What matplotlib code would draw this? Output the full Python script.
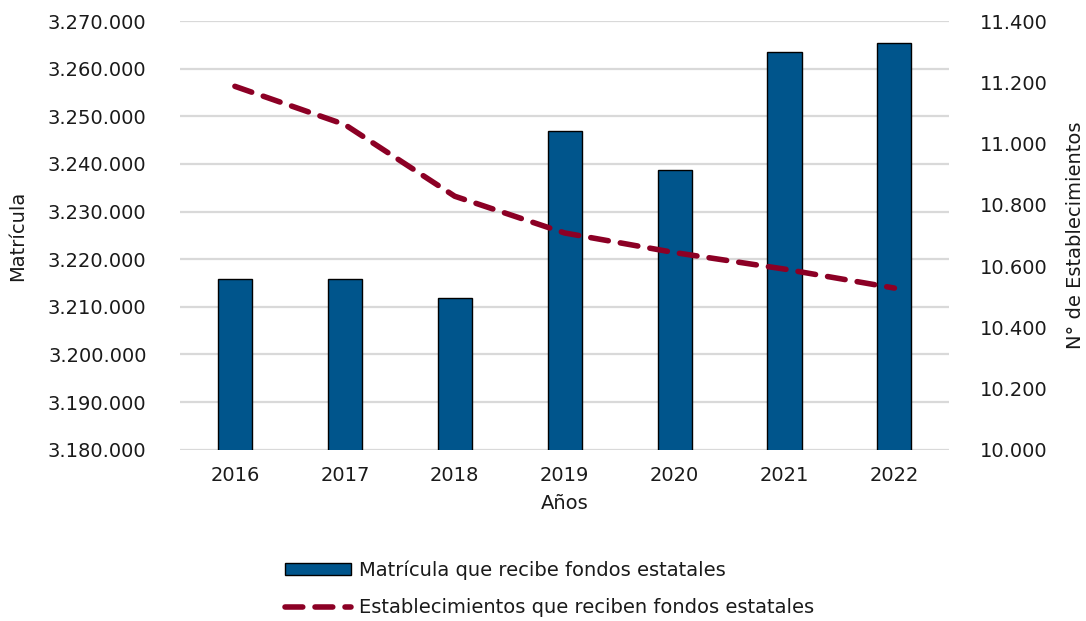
import matplotlib
matplotlib.use('Agg')
import matplotlib.pyplot as plt
from matplotlib.ticker import FuncFormatter
from matplotlib.lines import Line2D
from matplotlib.patches import Patch

plt.rcParams['font.family'] = ['DejaVu Sans']

anios = ['2016', '2017', '2018', '2019', '2020', '2021', '2022']
matricula = [3215800, 3215800, 3211900, 3247000, 3238800, 3263500, 3265400]
establecimientos = [11187, 11062, 10828, 10708, 10644, 10590, 10528]

color_barra = '#00558C'
color_linea = '#8C0025'
gris = '#D9D9D9'
texto = '#1a1a1a'


def miles(v, pos):
    # separador de miles con punto
    return '{:,.0f}'.format(v).replace(',', '.')


fig = plt.figure(figsize=(10.86, 6.21), dpi=100)
ax = fig.add_axes([0.1657, 0.2758, 0.7085, 0.6902])
ax2 = ax.twinx()

x = list(range(len(anios)))
ax.bar(x, matricula, width=0.31, color=color_barra, edgecolor='black',
       linewidth=1, zorder=3)
ax.set_ylim(3180000, 3270000)
ax.set_yticks(range(3180000, 3270001, 10000))
ax.yaxis.set_major_formatter(FuncFormatter(miles))
ax.set_xlim(-0.5, len(anios) - 0.5)
ax.set_xticks(x)
ax.set_xticklabels(anios)
ax.grid(axis='y', color=gris, linewidth=1.6, zorder=0)
ax.set_axisbelow(True)

ax2.plot(x, establecimientos, color=color_linea, linewidth=4,
         linestyle=(0, (3.2, 2.2)), dash_capstyle='round', zorder=4)
ax2.set_ylim(10000, 11400)
ax2.set_yticks(range(10000, 11401, 200))
ax2.yaxis.set_major_formatter(FuncFormatter(miles))

for a in (ax, ax2):
    for s in a.spines.values():
        s.set_visible(False)
    a.tick_params(length=0, labelsize=14, colors=texto)
ax.tick_params(axis='y', pad=24)
ax.tick_params(axis='x', pad=12)
ax2.tick_params(axis='y', pad=22)

ax.set_xlabel('Años', fontsize=14, color=texto, labelpad=6)
ax.set_ylabel('Matrícula', fontsize=14, color=texto, labelpad=15)
ax2.set_ylabel('N° de Establecimientos', fontsize=14, color=texto,
               labelpad=13)

handles = [Patch(facecolor=color_barra, edgecolor='black', linewidth=1),
           Line2D([0], [0], color=color_linea, linewidth=4,
                  linestyle=(0, (3.2, 2.2)), dash_capstyle='round')]
labels = ['Matrícula que recibe fondos estatales',
          'Establecimientos que reciben fondos estatales']
leg = fig.legend(handles, labels, loc='center', bbox_to_anchor=(0.506, 0.052),
                 ncol=1, frameon=False, fontsize=14, handlelength=3.4,
                 handleheight=0.6, handletextpad=0.4, labelspacing=0.95)
for t in leg.get_texts():
    t.set_color(texto)

fig.savefig('out.png', dpi=100)
